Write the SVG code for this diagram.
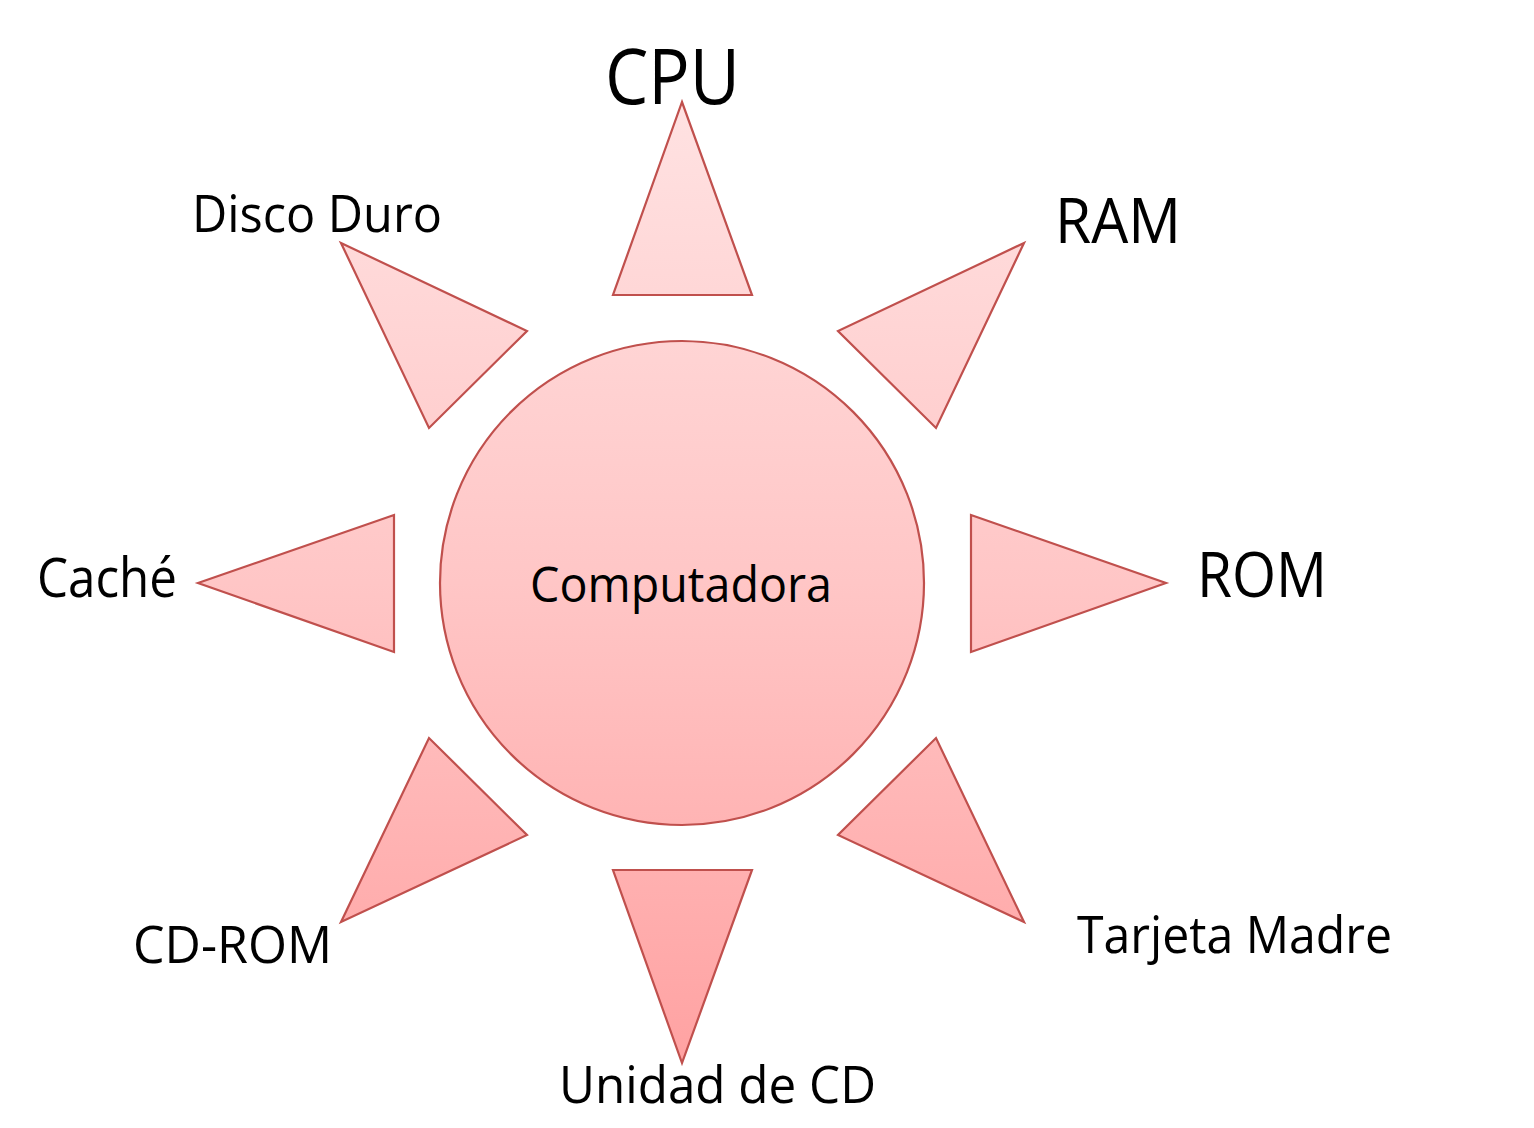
<svg xmlns="http://www.w3.org/2000/svg" width="1534" height="1128" viewBox="0 0 1534 1128">
<defs>
<linearGradient id="sunFill" gradientUnits="userSpaceOnUse" x1="0" y1="102" x2="0" y2="1063">
<stop offset="0" stop-color="#ffe2e2"/>
<stop offset="0.5" stop-color="#ffc6c6"/>
<stop offset="1" stop-color="#ffa2a2"/>
</linearGradient>
</defs>
<style>
.ray, .core { fill: url(#sunFill); stroke: #c0504d; stroke-width: 2.2; stroke-linejoin: miter; }
text { font-family: "Open Sans", "Liberation Sans", sans-serif; fill: #000; }
</style>
<rect width="1534" height="1128" fill="#fff"/>
<g id="computadora">
<circle class="core" cx="682" cy="583" r="242"/>
<text x="530" y="602" font-size="49" textLength="302" lengthAdjust="spacingAndGlyphs">Computadora</text>
</g>
<g id="cpu">
<polygon class="ray" points="682,102 752,295 613,295"/>
<text x="605" y="104" font-size="76" textLength="135" lengthAdjust="spacingAndGlyphs">CPU</text>
</g>
<g id="ram">
<polygon class="ray" points="1024,243 936,428 838,331"/>
<text x="1055" y="243" font-size="63" textLength="126" lengthAdjust="spacingAndGlyphs">RAM</text>
</g>
<g id="rom">
<polygon class="ray" points="1166,583 971,652 971,515"/>
<text x="1197" y="597" font-size="62" textLength="130" lengthAdjust="spacingAndGlyphs">ROM</text>
</g>
<g id="tarjeta-madre">
<polygon class="ray" points="1024,922 838,835 936,738"/>
<text x="1077" y="953" font-size="52" textLength="315" lengthAdjust="spacingAndGlyphs">Tarjeta Madre</text>
</g>
<g id="unidad-de-cd">
<polygon class="ray" points="682,1063 613,870 752,870"/>
<text x="559" y="1103" font-size="52" textLength="317" lengthAdjust="spacingAndGlyphs">Unidad de CD</text>
</g>
<g id="cd-rom">
<polygon class="ray" points="341,922 429,738 527,835"/>
<text x="133" y="963" font-size="52" textLength="199" lengthAdjust="spacingAndGlyphs">CD-ROM</text>
</g>
<g id="cache">
<polygon class="ray" points="198,583 394,515 394,652"/>
<text x="37" y="597" font-size="54" textLength="140" lengthAdjust="spacingAndGlyphs">Caché</text>
</g>
<g id="disco-duro">
<polygon class="ray" points="341,243 527,331 429,428"/>
<text x="192" y="232" font-size="52" textLength="250" lengthAdjust="spacingAndGlyphs">Disco Duro</text>
</g>
</svg>
